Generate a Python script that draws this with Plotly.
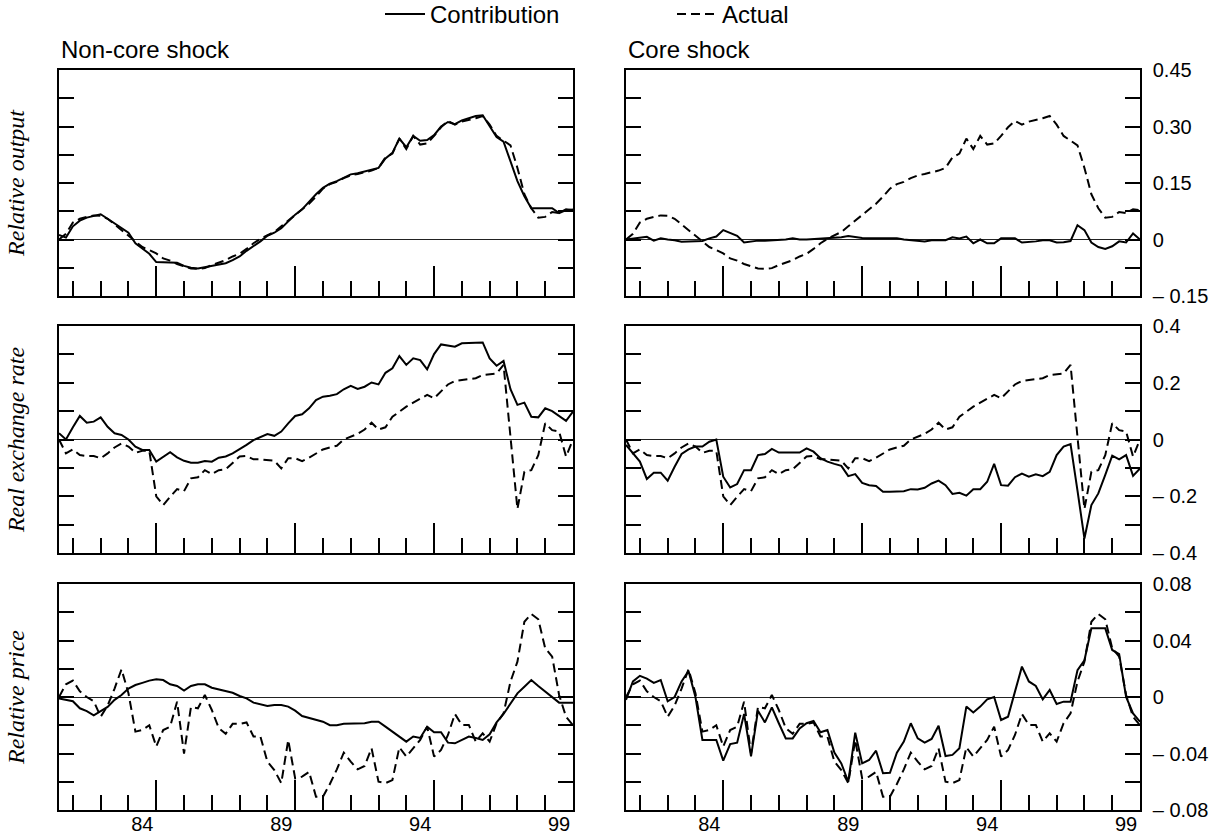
import plotly.graph_objects as go

# ---------------- data (quarterly, 1981Q3 .. 2000Q1 positions) ----------------
quarters = [1981.5 + 0.25 * i for i in range(75)]

output_actual = [
    0.0, 0.015, 0.045, 0.055, 0.06, 0.064, 0.063, 0.055, 0.04, 0.025,
    0.01, -0.003, -0.02, -0.028, -0.037, -0.05, -0.056, -0.065, -0.072, -0.077,
    -0.078, -0.076, -0.068, -0.062, -0.055, -0.045, -0.038, -0.025, -0.01, 0.002,
    0.012, 0.02, 0.035, 0.05, 0.065, 0.078, 0.095, 0.114, 0.135, 0.147,
    0.153, 0.163, 0.17, 0.174, 0.178, 0.183, 0.19, 0.218, 0.228, 0.268,
    0.24, 0.275, 0.252, 0.255, 0.275, 0.298, 0.315, 0.305, 0.313, 0.317,
    0.322, 0.328, 0.305, 0.275, 0.262, 0.25, 0.19, 0.12, 0.083, 0.058,
    0.06, 0.073, 0.07, 0.08, 0.078]
output_noncore = [
    0.012, 0.005, 0.035, 0.05, 0.058, 0.062, 0.067, 0.055, 0.043, 0.03,
    0.018, -0.01, -0.025, -0.038, -0.06, -0.06, -0.06, -0.062, -0.07, -0.075,
    -0.077, -0.073, -0.07, -0.066, -0.063, -0.055, -0.045, -0.03, -0.018, -0.005,
    0.01, 0.018, 0.03, 0.048, 0.066, 0.08, 0.1, 0.12, 0.137, 0.148,
    0.155, 0.165, 0.173, 0.176, 0.18, 0.184, 0.19, 0.215, 0.23, 0.268,
    0.245, 0.275, 0.262, 0.264, 0.277, 0.3, 0.312, 0.306, 0.316, 0.322,
    0.328, 0.33, 0.3, 0.272, 0.26, 0.21, 0.155, 0.115, 0.083, 0.083,
    0.083, 0.083, 0.07, 0.078, 0.08]
output_core = [
    0.0, 0.002, 0.005, 0.007, -0.003, 0.003, 0.0, -0.002, -0.006, -0.006,
    -0.006, -0.004, 0.003, 0.008, 0.025, 0.018, 0.01, -0.008, -0.005, -0.003,
    -0.003, -0.002, -0.002, 0.0, 0.003, 0.0, 0.0, 0.001, 0.002, 0.003,
    0.003, 0.006, 0.009, 0.006, 0.004, 0.003, 0.003, 0.003, 0.003, 0.003,
    0.0, -0.002, -0.005, -0.005, -0.002, -0.002, -0.002, 0.006, 0.003, 0.008,
    -0.01, 0.0, -0.01, -0.01, 0.003, 0.003, 0.003, -0.008, -0.007, -0.005,
    -0.002, -0.002, -0.008, -0.007, -0.004, 0.038, 0.025, -0.008, -0.02, -0.025,
    -0.018, -0.005, -0.008, 0.016, 0.0]

rer_actual = [
    0.0, -0.049, -0.035, -0.055, -0.058, -0.058, -0.066, -0.049, -0.028, -0.014,
    -0.025, -0.047, -0.04, -0.04, -0.2, -0.231, -0.202, -0.175, -0.182, -0.137,
    -0.133, -0.108, -0.122, -0.108, -0.105, -0.084, -0.06, -0.058, -0.07, -0.07,
    -0.072, -0.075, -0.102, -0.066, -0.066, -0.076, -0.064, -0.049, -0.035, -0.028,
    -0.022, 0.0, 0.01, 0.02, 0.035, 0.059, 0.035, 0.043, 0.08, 0.098,
    0.116, 0.13, 0.145, 0.157, 0.145, 0.169, 0.194, 0.206, 0.21, 0.213,
    0.216, 0.227, 0.229, 0.233, 0.263, 0.0, -0.245, -0.114, -0.108, -0.055,
    0.057, 0.033, 0.028, -0.06, 0.0]
rer_noncore = [
    0.022, 0.0, 0.043, 0.083, 0.059, 0.063, 0.078, 0.045, 0.022, 0.016,
    0.0, -0.025, -0.037, -0.037, -0.078, -0.06, -0.045, -0.063, -0.075, -0.082,
    -0.082, -0.076, -0.078, -0.064, -0.06, -0.049, -0.035, -0.019, -0.002, 0.008,
    0.019, 0.013, 0.028, 0.057, 0.083, 0.089, 0.11, 0.139, 0.151, 0.154,
    0.16, 0.177, 0.189, 0.178, 0.186, 0.201, 0.194, 0.235, 0.251, 0.294,
    0.263, 0.286, 0.28, 0.247, 0.301, 0.335, 0.331, 0.327, 0.339, 0.341,
    0.341, 0.342, 0.286, 0.26, 0.277, 0.177, 0.122, 0.13, 0.08, 0.078,
    0.11, 0.1, 0.083, 0.066, 0.098]
rer_core = [
    -0.019, -0.049, -0.078, -0.139, -0.117, -0.117, -0.145, -0.096, -0.051, -0.035,
    -0.025, -0.025, -0.008, 0.0, -0.131, -0.169, -0.157, -0.108, -0.108, -0.055,
    -0.051, -0.033, -0.046, -0.046, -0.046, -0.046, -0.031, -0.043, -0.066, -0.078,
    -0.086, -0.093, -0.129, -0.122, -0.153, -0.161, -0.164, -0.184, -0.184, -0.182,
    -0.182, -0.175, -0.176, -0.17, -0.155, -0.145, -0.161, -0.192, -0.188, -0.198,
    -0.175, -0.175, -0.149, -0.086, -0.161, -0.163, -0.133, -0.12, -0.131, -0.123,
    -0.129, -0.114, -0.055, -0.025, -0.016, -0.18, -0.349, -0.231, -0.19, -0.125,
    -0.057, -0.07, -0.055, -0.128, -0.102]

price_actual = [
    0.0, 0.009, 0.0116, 0.004, 0.0, -0.003, -0.014, -0.006, 0.006, 0.0196,
    0.0026, -0.0245, -0.0234, -0.02, -0.035, -0.0234, -0.021, -0.0033, -0.04, -0.007,
    -0.008, 0.0014, -0.0092, -0.022, -0.026, -0.019, -0.019, -0.018, -0.028, -0.028,
    -0.0458, -0.0517, -0.061, -0.0304, -0.0576, -0.0564, -0.053, -0.0706, -0.0706, -0.0616,
    -0.0512, -0.0394, -0.0458, -0.0512, -0.0488, -0.0363, -0.06, -0.061, -0.0588, -0.0356,
    -0.0422, -0.0363, -0.0304, -0.021, -0.0422, -0.0375, -0.0269, -0.012, -0.0198, -0.0198,
    -0.0316, -0.0257, -0.0316, -0.0186, -0.0116, 0.0109, 0.025, 0.0533, 0.0588, 0.055,
    0.0345, 0.0286, 0.0014, -0.014, -0.02]
price_noncore = [
    -0.001, -0.002, -0.003, -0.008, -0.01, -0.013, -0.01, -0.007, -0.002, 0.0014,
    0.006, 0.0085, 0.01, 0.0116, 0.0125, 0.012, 0.009, 0.0078, 0.0045, 0.0078,
    0.009, 0.009, 0.0066, 0.0054, 0.0042, 0.003, 0.0007, -0.001, -0.004, -0.005,
    -0.0064, -0.0057, -0.0057, -0.0068, -0.0097, -0.0135, -0.015, -0.0163, -0.0175, -0.02,
    -0.02, -0.019, -0.019, -0.019, -0.0186, -0.0175, -0.0175, -0.021, -0.0245, -0.028,
    -0.0316, -0.028, -0.029, -0.021, -0.025, -0.025, -0.0323, -0.0328, -0.0304, -0.028,
    -0.029, -0.0304, -0.0264, -0.018, -0.012, -0.0045, 0.0026, 0.0073, 0.012, 0.0078,
    0.0038, 0.0, -0.004, -0.004, -0.004]
price_core = [
    -0.002, 0.011, 0.015, 0.013, 0.01, 0.012, -0.003, 0.0, 0.011, 0.0184,
    0.0, -0.0304, -0.0304, -0.0304, -0.045, -0.0333, -0.0323, -0.012, -0.042, -0.0097,
    -0.018, -0.0073, -0.0186, -0.0293, -0.0293, -0.0222, -0.0186, -0.017, -0.025, -0.0234,
    -0.0394, -0.047, -0.06, -0.0252, -0.047, -0.0446, -0.038, -0.054, -0.0536, -0.0394,
    -0.0316, -0.0186, -0.0293, -0.0323, -0.0297, -0.0203, -0.0418, -0.041, -0.0363, -0.0068,
    -0.011, -0.0068, -0.0017, 0.0, -0.0163, -0.014, 0.0038, 0.0215, 0.011, 0.0078,
    -0.0017, 0.005, -0.005, -0.0033, -0.0033, 0.019, 0.026, 0.0486, 0.0486, 0.0486,
    0.0333, 0.0304, 0.0, -0.0116, -0.0175]

column_titles = ["Non-core shock", "Core shock"]
row_titles = ["Relative output", "Real exchange rate", "Relative price"]
row_ranges = [(-0.15, 0.45), (-0.4, 0.4), (-0.08, 0.08)]
row_ticktext = [
    ["\u2013 0.15", "", "0", "", "0.15", "", "0.30", "", "0.45"],
    ["\u2013 0.4", "", "\u2013 0.2", "", "0", "", "0.2", "", "0.4"],
    ["\u2013 0.08", "", "\u2013 0.04", "", "0", "", "0.04", "", "0.08"],
]
year_labels = ["84", "89", "94", "99"]
year_label_pos = [1984.5, 1989.5, 1994.5, 1999.5]
long_ticks = [1985, 1990, 1995]

panels = [
    (output_noncore, output_actual), (output_core, output_actual),
    (rer_noncore, rer_actual), (rer_core, rer_actual),
    (price_noncore, price_actual), (price_core, price_actual),
]

# ---------------- layout geometry (pixels) ----------------
W, H = 1220, 837
col_px = [(59, 573), (626, 1140)]
row_px = [(70, 296), (326, 553), (584, 810)]
XR = [1981.5, 2000.0]

SANS = "Liberation Sans, Arial, sans-serif"
SERIF = "Liberation Serif, Times New Roman, serif"

fig = go.Figure()
layout = dict(
    width=W, height=H,
    margin=dict(l=0, r=0, t=0, b=0, pad=0, autoexpand=False),
    paper_bgcolor="white", plot_bgcolor="white",
    font=dict(family=SANS, color="black", size=20),
    showlegend=True,
)

for i, (contrib, actual) in enumerate(panels):
    r, c = divmod(i, 2)
    n = i + 1
    xa = "x" if n == 1 else f"x{n}"
    ya = "y" if n == 1 else f"y{n}"
    fig.add_trace(go.Scatter(
        x=quarters, y=contrib, mode="lines", name="Contribution",
        line=dict(color="black", width=2), xaxis=xa, yaxis=ya,
        showlegend=(i == 0), legendrank=1, hoverinfo="skip"))
    fig.add_trace(go.Scatter(
        x=quarters, y=actual, mode="lines", name="Actual",
        line=dict(color="black", width=2, dash="9px,5px"), xaxis=xa, yaxis=ya,
        showlegend=(i == 0), legendrank=2, hoverinfo="skip"))

    x0, x1 = col_px[c]
    y0, y1 = row_px[r]
    lo, hi = row_ranges[r]
    step = (hi - lo) / 8
    tv = [lo + k * step for k in range(9)]

    layout[f"xaxis{n if n > 1 else ''}"] = dict(
        domain=[x0 / W, x1 / W], anchor=ya, range=XR, automargin=False,
        showline=True, mirror=True, linecolor="black", linewidth=1.5,
        showgrid=False, zeroline=False,
        tickmode="array", tickvals=long_ticks, ticks="inside", ticklen=30,
        tickwidth=1.5, tickcolor="black", showticklabels=False,
        minor=dict(tickmode="linear", tick0=1982, dtick=1, ticks="inside",
                   ticklen=15, tickwidth=1.5, tickcolor="black", showgrid=False),
    )
    yax = dict(
        domain=[1 - y1 / H, 1 - y0 / H], anchor=xa, range=[lo, hi],
        automargin=False,
        showline=True, mirror="ticks", linecolor="black", linewidth=1.5,
        showgrid=False, zeroline=True, zerolinecolor="#222", zerolinewidth=1.2,
        tickmode="array", tickvals=tv, ticktext=row_ticktext[r],
        ticks="inside", ticklen=15, tickwidth=1.5, tickcolor="black",
    )
    if c == 1:
        yax.update(side="right", showticklabels=True,
                   tickfont=dict(size=20, family=SANS), ticklabelstandoff=7)
    else:
        yax.update(showticklabels=False,
                   title=dict(text=f"<i>{row_titles[r]}</i>", standoff=26,
                              font=dict(family=SERIF, size=24)))
    layout[f"yaxis{n if n > 1 else ''}"] = yax

# year labels on the bottom row (overlay axes carrying only labels)
for k, base in enumerate([5, 6]):
    n = 7 + k
    fig.add_trace(go.Scatter(x=[], y=[], xaxis=f"x{n}", yaxis=f"y{base}",
                             showlegend=False, hoverinfo="skip"))
    x0, x1 = col_px[k]
    layout[f"xaxis{n}"] = dict(
        domain=[x0 / W, x1 / W], anchor=f"y{base}", overlaying=f"x{base}",
        range=XR, side="bottom", showline=False, showgrid=False, zeroline=False,
        automargin=False,
        tickmode="array", tickvals=year_label_pos, ticktext=year_labels,
        ticks="", tickfont=dict(size=20, family=SANS),
    )

layout["annotations"] = [
    dict(text=column_titles[c], x=col_px[c][0] / W, y=1 - 50 / H, xref="paper",
         yref="paper", xanchor="left", yanchor="middle", showarrow=False,
         font=dict(size=24, family=SANS))
    for c in range(2)
]
layout["legend"] = dict(
    orientation="h", x=380 / W, y=1 + 8 / H, xanchor="left", yanchor="top",
    font=dict(size=24, family=SANS), bgcolor="rgba(0,0,0,0)",
    entrywidth=237, entrywidthmode="pixels", itemwidth=40, traceorder="normal",
)

fig.update_layout(**layout)
fig.write_html(
    "out.html",
    config={"displayModeBar": False},
    post_script="document.body.style.margin='0';document.body.style.padding='0';",
)
